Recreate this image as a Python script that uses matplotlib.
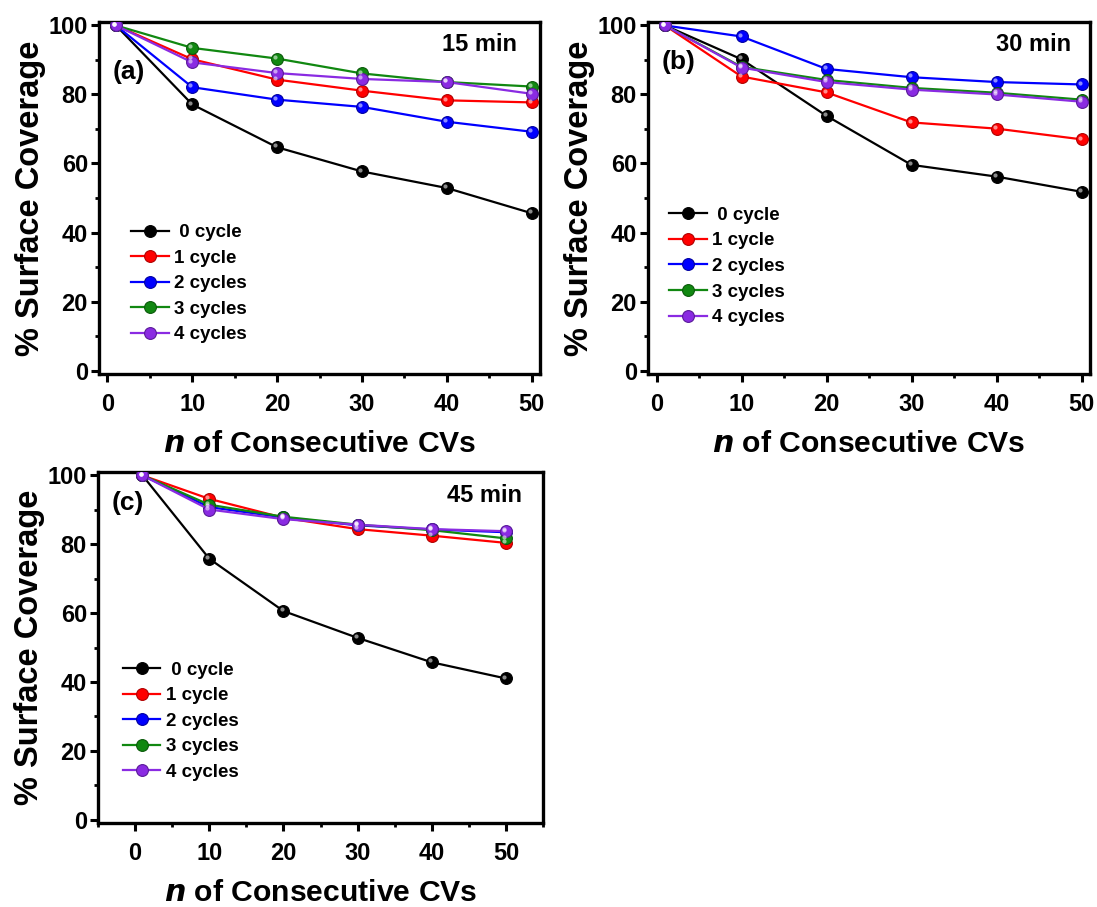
import matplotlib
matplotlib.use("Agg")
import matplotlib.pyplot as plt
from matplotlib.ticker import MultipleLocator
from matplotlib.transforms import offset_copy

plt.rcParams['font.family'] = ['Liberation Sans', 'DejaVu Sans']
plt.rcParams['font.weight'] = 'bold'

x = [1, 10, 20, 30, 40, 50]
labels = [" 0 cycle", "1 cycle", "2 cycles", "3 cycles", "4 cycles"]
colors = ["#000000", "#ff0000", "#0000ff", "#118811", "#8a2be2"]
edges = ["#000000", "#b00000", "#0000a0", "#0a5a0a", "#5a1a9a"]

# (a) 15 min
a_0 = [100, 77.1, 64.7, 57.7, 52.9, 45.6]
a_1 = [100, 90.2, 84.3, 81.1, 78.3, 77.7]
a_2 = [100, 82.1, 78.5, 76.4, 72.1, 69.2]
a_3 = [100, 93.5, 90.4, 86.1, 83.6, 82.3]
a_4 = [100, 89.3, 86.2, 84.5, 83.6, 80.2]

# (b) 30 min
b_0 = [100, 90.2, 73.8, 59.6, 56.2, 51.8]
b_1 = [100, 85.2, 80.6, 71.9, 70.1, 67.0]
b_2 = [100, 96.8, 87.4, 85.0, 83.6, 82.9]
b_3 = [100, 88.0, 84.2, 81.9, 80.5, 78.5]
b_4 = [100, 87.8, 83.6, 81.4, 80.0, 77.9]

# (c) 45 min
c_0 = [100, 75.8, 60.6, 52.8, 45.7, 41.0]
c_1 = [100, 93.2, 87.7, 84.4, 82.5, 80.4]
c_2 = [100, 90.8, 87.8, 85.5, 84.3, 83.5]
c_3 = [100, 91.5, 88.0, 85.7, 84.1, 81.7]
c_4 = [100, 90.1, 87.3, 85.7, 84.4, 83.8]

W, H = 1097, 907
fig = plt.figure(figsize=(W / 100, H / 100), dpi=100)


def px_axes(l, r, t, b):
    return fig.add_axes([l / W, 1 - b / H, (r - l) / W, (b - t) / H])


panels = [
    dict(box=(99, 540, 22, 374), series=[a_0, a_1, a_2, a_3, a_4], xlim=(-1, 51),
         tag="(a)", tagpos=(0.03, 0.858), time="15 min", timepos=(0.948, 0.935),
         leg=(0.073, 0.426)),
    dict(box=(648, 1090, 22, 374), series=[b_0, b_1, b_2, b_3, b_4], xlim=(-1, 51),
         tag="(b)", tagpos=(0.03, 0.886), time="30 min", timepos=(0.957, 0.935),
         leg=(0.048, 0.475)),
    dict(box=(98, 543, 472, 823), series=[c_0, c_1, c_2, c_3, c_4], xlim=(-5, 55),
         tag="(c)", tagpos=(0.031, 0.912), time="45 min", timepos=(0.953, 0.934),
         leg=(0.056, 0.46)),
]

for p in panels:
    ax = px_axes(*p["box"])
    for ys, lab, c, ec in zip(p["series"], labels, colors, edges):
        ax.plot(x, ys, '-', color=c, lw=1.6, marker='o', ms=8.5,
                mfc=c, mec=ec, mew=0.8, label=lab, zorder=3)
        hl = offset_copy(ax.transData, fig=fig, x=-1.3, y=1.3, units='points')
        ax.plot(x, ys, 'o', ms=3, color='white', alpha=0.55, mew=0,
                transform=hl, zorder=4)
    ax.set_xlim(*p["xlim"])
    ax.set_ylim(-1, 101)
    ax.xaxis.set_major_locator(MultipleLocator(10))
    ax.xaxis.set_minor_locator(MultipleLocator(5))
    ax.yaxis.set_major_locator(MultipleLocator(20))
    ax.yaxis.set_minor_locator(MultipleLocator(10))
    ax.tick_params(which='major', direction='out', length=6, width=2.2,
                   labelsize=17)
    ax.tick_params(axis='y', which='major', pad=2)
    ax.tick_params(axis='x', which='major', pad=7.5)
    ax.tick_params(which='minor', direction='out', length=3, width=2.0)
    for lbl in ax.get_xticklabels() + ax.get_yticklabels():
        lbl.set_fontweight('bold')
    for s in ax.spines.values():
        s.set_linewidth(2.4)
    ax.set_ylabel("% Surface Coverage", fontsize=23.5, fontweight='bold', labelpad=2)
    ax.set_xlabel(r"$\mathbfit{n}$ of Consecutive CVs", fontsize=21.7,
                  fontweight='bold', labelpad=10)
    ax.text(p["tagpos"][0], p["tagpos"][1], p["tag"], transform=ax.transAxes,
            fontsize=19, fontweight='bold', ha='left', va='center')
    ax.text(p["timepos"][0], p["timepos"][1], p["time"], transform=ax.transAxes,
            fontsize=17, fontweight='bold', ha='right', va='center')
    leg = ax.legend(loc='upper left', bbox_to_anchor=p["leg"], frameon=False,
                    fontsize=13.5, handlelength=2.0, handletextpad=0.3,
                    labelspacing=0.45, borderpad=0, borderaxespad=0)
    for t in leg.get_texts():
        t.set_fontweight('bold')

fig.savefig("out.png", dpi=100)
